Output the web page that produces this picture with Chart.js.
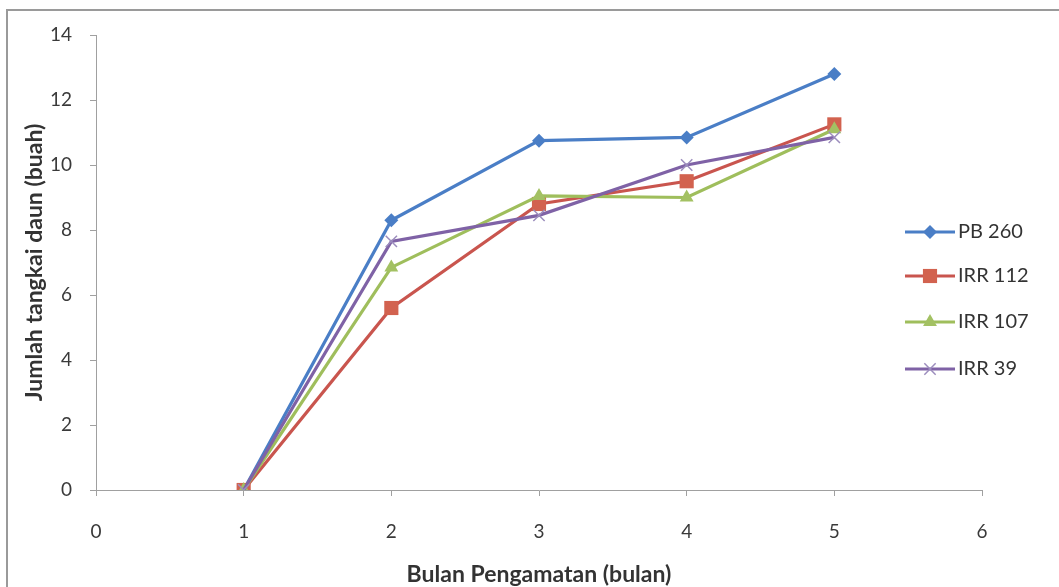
<!DOCTYPE html>
<html>
<head>
<meta charset="utf-8">
<script src="https://cdn.jsdelivr.net/npm/chart.js@4.4.1/dist/chart.umd.min.js"></script>
<style>
  html, body { margin: 0; padding: 0; background: #ffffff; }
  #wrap { width: 1059px; height: 587px; position: relative; }
</style>
</head>
<body>
<div id="wrap"><canvas id="c" width="1059" height="587"></canvas></div>
<script>
const months = [1, 2, 3, 4, 5];
const seriesNames = ["PB 260", "IRR 112", "IRR 107", "IRR 39"];
const pb260  = [0, 8.3, 10.75, 10.85, 12.8];
const irr112 = [0, 5.6, 8.8, 9.5, 11.25];
const irr107 = [0, 6.85, 9.05, 9.0, 11.1];
const irr39  = [0, 7.65, 8.45, 10.0, 10.85];
const xTicks = [0, 1, 2, 3, 4, 5, 6];
const yTicks = [0, 2, 4, 6, 8, 10, 12, 14];

const colors = ["#4A7EC6", "#C9554E", "#9FBE5C", "#7F62A6"];
const markers = [
  { style: "rectRot", radius: 7, color: "#4A7EC6" },
  { style: "rect", radius: 10, color: "#D2624F" },
  { style: "triangle", radius: 8, color: "#A3C163" },
  { style: "crossRot", radius: 8, color: "#9C8DBD" }
];
const allValues = [pb260, irr112, irr107, irr39];

const FONT = "Lato, 'Open Sans', sans-serif";

const datasets = allValues.map((vals, i) => ({
  label: seriesNames[i],
  data: months.map((m, j) => ({ x: m, y: vals[j] })),
  borderColor: colors[i],
  borderWidth: 3.2,
  backgroundColor: markers[i].color,
  pointStyle: markers[i].style,
  pointRadius: markers[i].radius,
  pointHoverRadius: markers[i].radius,
  pointBackgroundColor: markers[i].color,
  pointBorderColor: markers[i].color,
  pointBorderWidth: markers[i].style === "crossRot" ? 1.5 : 0,
  tension: 0,
  order: 4 - i
}));

const framePlugin = {
  id: "frame",
  beforeDraw(chart) {
    const ctx = chart.ctx;
    ctx.save();
    ctx.fillStyle = "#ffffff";
    ctx.fillRect(0, 0, chart.width, chart.height);
    ctx.strokeStyle = "#9a9a9a";
    ctx.lineWidth = 2;
    ctx.beginPath();
    ctx.moveTo(7, chart.height);
    ctx.lineTo(7, 10);
    ctx.lineTo(chart.width, 10);
    ctx.stroke();
    ctx.restore();
  }
};

const legendPlugin = {
  id: "sideLegend",
  afterDraw(chart) {
    const ctx = chart.ctx;
    const ys = [232, 276, 322, 369];
    ctx.save();
    chart.data.datasets.forEach((ds, i) => {
      const y = ys[i];
      ctx.strokeStyle = ds.borderColor;
      ctx.lineWidth = 3.2;
      ctx.beginPath();
      ctx.moveTo(905, y);
      ctx.lineTo(955, y);
      ctx.stroke();
      ctx.fillStyle = ds.pointBackgroundColor;
      ctx.strokeStyle = ds.pointBorderColor;
      ctx.lineWidth = ds.pointBorderWidth || 0.01;
      Chart.helpers.drawPoint(ctx, { pointStyle: ds.pointStyle, radius: ds.pointRadius, borderWidth: ds.pointBorderWidth }, 930, y);
      ctx.fillStyle = "#333333";
      ctx.font = "20px " + FONT;
      ctx.textAlign = "left";
      ctx.textBaseline = "middle";
      ctx.fillText(ds.label, 958, y);
    });
    ctx.restore();
  }
};

new Chart(document.getElementById("c"), {
  type: "line",
  data: { datasets },
  options: {
    responsive: false,
    animation: false,
    devicePixelRatio: 1,
    layout: { padding: { left: 0, top: 35, right: 77, bottom: 0 } },
    plugins: {
      legend: { display: false },
      tooltip: { enabled: false }
    },
    scales: {
      x: {
        type: "linear",
        min: 0, max: 6,
        afterBuildTicks(scale) { scale.ticks = xTicks.map(v => ({ value: v })); },
        afterFit(scale) { scale.height = 97; },
        grid: { drawOnChartArea: false, drawTicks: true, tickLength: 6, color: "#a0a0a0" },
        border: { display: true, color: "#a0a0a0", width: 1 },
        ticks: { padding: 24, color: "#3a3a3a", font: { family: FONT, size: 19 }, maxRotation: 0 },
        title: {
          display: true,
          text: "Bulan Pengamatan (bulan)",
          color: "#333333",
          font: { family: FONT, size: 23, weight: "bold", lineHeight: 1 },
          padding: { top: 0, bottom: 1 }
        }
      },
      y: {
        min: 0, max: 14,
        afterBuildTicks(scale) { scale.ticks = yTicks.map(v => ({ value: v })); },
        afterFit(scale) { scale.width = 96; },
        grid: { drawOnChartArea: false, drawTicks: true, tickLength: 6, color: "#a0a0a0" },
        border: { display: true, color: "#a0a0a0", width: 1 },
        ticks: { padding: 18, color: "#3a3a3a", font: { family: FONT, size: 19 } },
        title: {
          display: true,
          text: "Jumlah tangkai daun (buah)",
          color: "#333333",
          font: { family: FONT, size: 23, weight: "bold", lineHeight: 1 },
          padding: { top: 23, bottom: 0 }
        }
      }
    }
  },
  plugins: [framePlugin, legendPlugin]
});
</script>
</body>
</html>
